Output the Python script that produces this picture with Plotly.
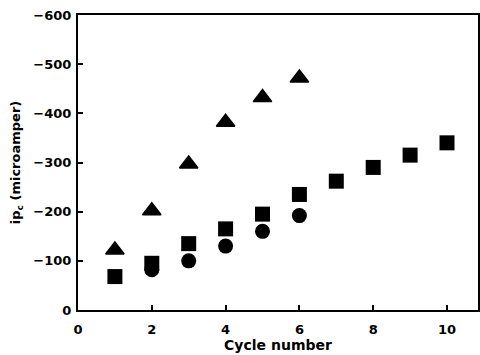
import plotly.graph_objects as go

cycles_tri = [1, 2, 3, 4, 5, 6]
ipc_tri = [-122, -202, -297, -382, -432, -472]
cycles_sq = [1, 2, 3, 4, 5, 6, 7, 8, 9, 10]
ipc_sq = [-68, -95, -135, -165, -195, -235, -262, -290, -315, -340]
cycles_circ = [2, 3, 4, 5, 6]
ipc_circ = [-82, -100, -130, -160, -192]

x_ticks = [0, 2, 4, 6, 8, 10]
y_ticks = [0, -100, -200, -300, -400, -500, -600]
y_ticktext = ["0", "−100", "−200", "−300", "−400", "−500", "−600"]

fig = go.Figure()
fig.add_trace(go.Scatter(x=cycles_circ, y=ipc_circ, mode="markers",
                         marker=dict(symbol="circle", size=15, color="black")))
fig.add_trace(go.Scatter(x=cycles_sq, y=ipc_sq, mode="markers",
                         marker=dict(symbol="square", size=15, color="black")))
fig.add_trace(go.Scatter(x=cycles_tri, y=ipc_tri, mode="markers",
                         marker=dict(symbol="triangle-up", size=16, color="black",
                                     line=dict(color="black", width=1.5))))

fam = "DejaVu Sans, Arial, sans-serif"
font = dict(family=fam, size=13, color="black", weight="bold")
fig.update_layout(
    width=480, height=355,
    margin=dict(l=78, r=2, t=15, b=45, autoexpand=False),
    paper_bgcolor="white", plot_bgcolor="white",
    showlegend=False,
    font=font,
)
fig.update_xaxes(range=[0, 10.84], tickvals=x_ticks, ticks="inside", ticklen=5,
                 tickwidth=2, tickcolor="black", showline=True, linecolor="black",
                 linewidth=2, mirror=True, showgrid=False, zeroline=False, automargin=False,
                 ticklabelstandoff=6,
                 title=dict(text="Cycle number", font=dict(family=fam, size=14, color="black", weight="bold"), standoff=5),
                 tickfont=font)
fig.update_yaxes(range=[0, -600], tickvals=y_ticks, ticktext=y_ticktext,
                 ticks="inside", ticklen=5, tickwidth=2, tickcolor="black",
                 showline=True, linecolor="black", linewidth=2, mirror=True,
                 showgrid=False, zeroline=False, automargin=False,
                 ticklabelstandoff=2,
                 title=dict(text="ip<sub>c</sub> (microamper)", font=dict(family=fam, size=13, color="black", weight="bold"), standoff=10),
                 tickfont=font)
fig.write_html("out.html", config={"displayModeBar": False},
               post_script="document.body.style.margin='0';document.body.style.overflow='hidden';")
